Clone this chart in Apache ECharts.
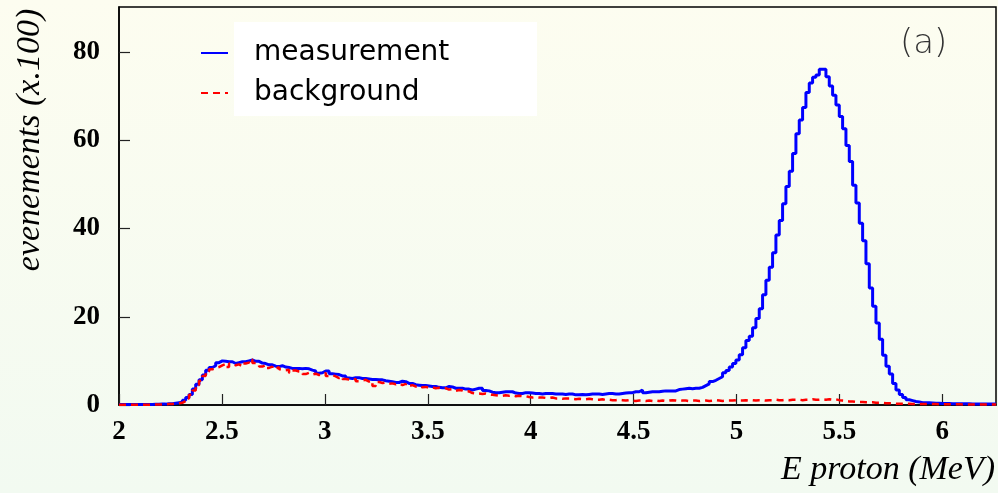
<!DOCTYPE html>
<html>
<head>
<meta charset="utf-8">
<script src="https://cdn.jsdelivr.net/npm/echarts@6/dist/echarts.min.js"></script>
<style>
html,body{margin:0;padding:0;width:998px;height:493px;overflow:hidden;background:linear-gradient(#fdfdf0,#f2faf1);}
#chart{width:998px;height:493px;}
</style>
</head>
<body>
<div id="chart"></div>
<script>
// Histogram binning (MeV)
const binStart = 2.0;
const binWidth = 0.0162;

// measurement (x100 events per bin)
const measurement = [
0.1,0.1,0.1,0.1,0.1,0.1,0.1,0.1,0.1,0.1,0.15,0.15,0.2,
0.2,0.3,0.3,0.4,0.5,
0.6,1.1,1.7,2.4,3.6,4.7,5.7,6.8,7.9,8.5,8.9,9.6,
10.0,9.9,9.8,9.8,9.4,9.6,9.8,9.8,10.0,10.2,
9.9,9.9,9.5,9.4,9.1,9.1,8.8,8.7,8.9,8.6,
8.5,8.3,8.3,8.3,8.2,8.3,8.2,7.9,7.7,7.2,
7.3,7.7,7.7,7.1,7.0,6.9,6.6,6.6,6.1,6.0,
6.2,6.2,6.0,6.0,5.9,5.8,5.8,5.7,5.7,5.5,
5.4,5.3,5.1,5.1,5.4,5.3,4.9,4.9,4.6,4.5,
4.4,4.4,4.3,4.2,4.2,4.0,3.9,3.9,4.2,4.1,
3.8,3.8,3.8,3.6,3.6,3.4,3.6,3.8,3.8,3.3,
3.2,2.9,2.8,2.8,2.9,3.0,3.0,3.0,2.7,2.6,
2.6,2.8,2.8,2.7,2.6,2.6,2.5,2.6,2.6,2.6,
2.5,2.5,2.5,2.4,2.5,2.5,2.3,2.3,2.4,2.3,
2.4,2.5,2.5,2.5,2.4,2.5,2.6,2.6,2.5,2.5,
2.6,2.7,2.8,2.8,3.0,3.0,3.4,2.8,2.9,3.0,
3.0,3.0,3.1,3.2,3.2,3.2,3.2,3.5,3.6,3.7,
3.8,3.7,3.8,3.8,4.0,4.4,4.8,5.3,5.6,6.0,
6.4,7.3,7.8,8.6,9.4,10.2,11.4,13.0,14.6,15.6,
17.5,19.6,21.8,25.0,28.3,31.2,34.5,38.5,41.8,45.6,
49.5,53.0,57.0,61.5,64.6,67.4,70.8,73.0,74.3,74.8,
76.1,76.1,74.4,72.3,70.2,68.0,65.4,62.6,58.8,55.2,
49.8,45.8,41.2,37.2,32.0,26.5,22.4,18.6,14.9,11.3,
8.8,7.0,4.9,3.4,2.4,1.7,1.2,1.0,0.8,0.7,
0.5,0.5,0.5,0.45,0.4,0.4,0.35,0.35,0.35,0.3,
0.3,0.3,0.3,0.3,0.3,0.25,0.25,0.2,0.2,0.2,0.2,0.2,0.2
];

// background (x100 events per bin)
const background = [
0.05,0.05,0.05,0.05,0.05,0.05,0.05,0.05,0.05,0.05,0.1,0.1,0.1,
0.15,0.2,0.25,0.3,0.4,
0.5,0.9,1.5,2.3,3.3,4.5,5.5,6.6,7.6,8.1,8.4,8.6,
9.0,9.3,8.6,9.4,9.0,9.2,8.8,9.4,9.6,10.3,
9.5,9.3,8.7,9.0,8.4,8.7,8.2,8.6,8.1,7.9,
8.0,7.3,7.8,7.6,7.5,7.0,7.3,6.9,7.1,6.8,
6.9,7.3,6.6,6.8,6.5,6.1,6.4,5.9,5.8,5.6,
5.9,5.4,5.6,5.7,5.3,5.5,4.3,5.2,5.0,5.1,
4.8,4.9,4.7,4.9,4.5,4.8,4.3,4.5,4.2,4.4,
4.0,4.1,3.9,4.0,3.8,3.9,3.7,3.8,3.5,3.6,
3.2,3.4,3.3,3.0,3.1,2.7,2.6,2.6,2.5,2.6,
2.4,2.3,2.2,2.1,2.1,2.2,2.1,2.2,2.0,2.1,
2.0,2.0,1.8,1.7,1.8,1.7,1.7,1.6,1.6,1.7,
1.5,1.5,1.4,1.5,1.5,1.4,1.3,1.4,1.3,1.3,
1.4,1.3,1.2,1.2,1.3,1.1,1.2,1.1,1.1,1.2,
1.1,1.0,1.1,1.0,0.9,1.0,1.0,0.9,1.0,0.9,
1.0,0.9,1.0,0.9,1.0,1.1,1.0,0.9,1.0,1.0,
0.9,1.0,1.0,0.9,1.0,1.0,0.9,1.0,1.1,1.0,
0.9,1.0,1.0,1.0,1.1,1.0,1.0,1.1,1.0,1.1,
1.0,1.1,1.1,1.0,1.1,1.1,1.2,1.1,1.1,1.2,
1.1,1.2,1.2,1.2,1.1,1.2,1.2,1.3,1.2,1.2,
1.3,1.2,1.3,1.2,1.3,1.1,1.0,0.9,0.8,0.8,
0.7,0.7,0.7,0.6,0.6,0.6,0.5,0.5,0.5,0.4,
0.4,0.4,0.3,0.3,0.3,0.3,0.3,0.25,0.25,0.2,
0.2,0.2,0.2,0.2,0.2,0.15,0.15,0.15,0.15,0.15,
0.15,0.15,0.1,0.1,0.1,0.1,0.1,0.1,0.1,0.1,0.1,0.1,0.1
];

const xTickLabels = ['2','2.5','3','3.5','4','4.5','5','5.5','6'];
const yTickLabels = ['0','20','40','60','80'];
const seriesNames = ['measurement','background'];

function toSteps(values){
  const pts = values.map((v,i)=>[binStart + i*binWidth, v]);
  pts.push([binStart + values.length*binWidth, values[values.length-1]]);
  return pts;
}
const xMax = binStart + measurement.length*binWidth;

const chart = echarts.init(document.getElementById('chart'), null, {renderer:'canvas'});
const tickFont = {fontFamily:'Liberation Serif', fontWeight:'bold', fontSize:27, color:'#000'};
chart.setOption({
  animation:false,
  backgroundColor:'transparent',
  grid:{left:119, right:2, top:7, bottom:88, show:true, borderColor:'#000', borderWidth:1.5, backgroundColor:'transparent'},
  title:{text:'(a)', left:895, top:22, textStyle:{fontFamily:'DejaVu Sans', fontWeight:200, fontSize:34, color:'#333'}},
  legend:{
    data:seriesNames, orient:'vertical', left:195, top:34, itemWidth:27, itemHeight:14, itemGap:12,
    itemStyle:{opacity:0},
    textStyle:{fontFamily:'DejaVu Sans', fontSize:28, color:'#000', padding:[0,0,0,21]}
  },
  xAxis:{
    type:'value', min:binStart, max:xMax, interval:0.5,
    axisLine:{show:true, lineStyle:{color:'#000', width:1.5}},
    axisTick:{show:true, inside:true, length:11, lineStyle:{color:'#222', width:1.2}},
    splitLine:{show:false},
    axisLabel:Object.assign({margin:14, showMaxLabel:false, formatter:function(v){
      const idx = Math.round((v-binStart)/0.5);
      return Math.abs(v - (binStart+idx*0.5))<1e-6 && xTickLabels[idx] ? xTickLabels[idx] : '';
    }}, tickFont)
  },
  yAxis:{
    type:'value', min:0, max:90.2, interval:20,
    axisLine:{show:true, lineStyle:{color:'#000', width:1.5}},
    axisTick:{show:true, inside:true, length:11, lineStyle:{color:'#222', width:1.2}},
    splitLine:{show:false},
    axisLabel:Object.assign({margin:19, showMaxLabel:false, formatter:function(v){
      const idx = Math.round(v/20);
      return Math.abs(v-idx*20)<1e-6 && yTickLabels[idx] ? yTickLabels[idx] : '';
    }}, tickFont)
  },
  graphic:[
    {type:'rect', z:-1, shape:{x:234, y:22, width:303, height:94}, style:{fill:'#ffffff'}},
    {type:'text', x:30, y:140, rotation:Math.PI/2, style:{text:'evenements (x.100)', x:0, y:0, align:'center', verticalAlign:'middle', font:'italic 34px "Liberation Serif"', fill:'#000'}},
    {type:'text', x:995, y:470, style:{text:'E proton (MeV)', x:0, y:0, align:'right', verticalAlign:'middle', font:'italic 34px "Liberation Serif"', fill:'#000'}}
  ],
  series:[
    {name:seriesNames[0], type:'line', step:'end', symbol:'none', data:toSteps(measurement),
     lineStyle:{color:'#0000ff', width:3}, itemStyle:{color:'#0000ff'}},
    {name:seriesNames[1], type:'line', step:'end', symbol:'none', data:toSteps(background),
     lineStyle:{color:'#ff0000', width:2.5, type:[7,5]}, itemStyle:{color:'#ff0000'}}
  ]
});
</script>
</body>
</html>
